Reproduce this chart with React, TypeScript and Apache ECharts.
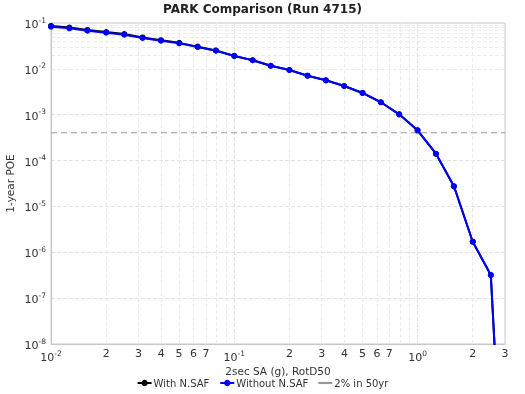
import React, { useEffect, useRef } from "react";
import * as echarts from "echarts";

const xValues = [0.01, 0.0126, 0.0158, 0.02, 0.0251, 0.0316, 0.0398, 0.0501, 0.0631, 0.0794, 0.1, 0.126, 0.158, 0.2, 0.251, 0.316, 0.398, 0.501, 0.631, 0.794, 1.0, 1.26, 1.58, 2.0, 2.51, 3.16];
const withNSAF = [0.0865, 0.0795, 0.0705, 0.0636, 0.0575, 0.0485, 0.0422, 0.0369, 0.0305, 0.0252, 0.0192, 0.0154, 0.0117, 0.00944, 0.0071, 0.00563, 0.00423, 0.00298, 0.00187, 0.00102, 0.000457, 0.000141, 2.75e-5, 1.7e-6, 3.2e-7, 1e-14];
const withoutNSAF = [0.083, 0.0766, 0.068, 0.0614, 0.0556, 0.0471, 0.0411, 0.0361, 0.03, 0.0249, 0.0191, 0.0154, 0.0117, 0.00944, 0.0071, 0.00563, 0.00423, 0.00298, 0.00187, 0.00102, 0.000457, 0.000141, 2.75e-5, 1.7e-6, 3.2e-7, 1e-14];
const refLevel = 1 - Math.pow(0.98, 1 / 50);
const xMinorValues = [0.02, 0.03, 0.04, 0.05, 0.06, 0.07, 0.2, 0.3, 0.4, 0.5, 0.6, 0.7, 2, 3];
const xMinorLabels = ["2", "3", "4", "5", "6", "7", "2", "3", "4", "5", "6", "7", "2", "3"];
const seriesNames = ["With N.SAF", "Without N.SAF", "2% in 50yr"];

const FONT = "DejaVu Sans";

function supLabel(v: number) {
  const e = Math.round(Math.log10(v));
  return "{b|10}{s|" + e + "}";
}

const rich = {
  b: { fontSize: 11, fontFamily: FONT, color: "#333", verticalAlign: "bottom" as const },
  s: { fontSize: 7.5, fontFamily: FONT, color: "#333", verticalAlign: "top" as const, padding: [0, 0, 6, 0] },
};

export default function App() {
  const ref = useRef<HTMLDivElement>(null);
  useEffect(() => {
    if (!ref.current) return;
    const chart = echarts.init(ref.current, null, { renderer: "svg" });

    const gridColor = "#e0e0e0";
    const minorY: any[] = [];
    for (let d = -8; d < -1; d++) {
      for (let m = 2; m <= 9; m++) minorY.push({ yAxis: m * Math.pow(10, d) });
    }
    const minorX: any[] = [];
    for (let d = -2; d <= 0; d++) {
      for (let m = 2; m <= 9; m++) {
        const v = m * Math.pow(10, d);
        if (v < 3) minorX.push({ xAxis: v });
      }
    }
    const xLabelData = xMinorValues.map((v, i) => ({
      xAxis: v,
      label: { formatter: xMinorLabels[i] },
    }));

    const dataWith = xValues.map((x, i) => [x, withNSAF[i]]);
    const dataWithout = xValues.map((x, i) => [x, withoutNSAF[i]]);

    chart.setOption({
      animation: false,
      textStyle: { fontFamily: FONT },
      title: {
        text: "PARK Comparison (Run 4715)",
        left: "center",
        top: -2,
        textStyle: { fontSize: 12, fontWeight: "bold", fontFamily: FONT, color: "#222" },
      },
      legend: {
        bottom: 1,
        left: "center",
        itemWidth: 14,
        itemHeight: 8,
        itemGap: 10,
        textStyle: { fontSize: 10, fontFamily: FONT, color: "#333", padding: [0, 0, 0, -3] },
        data: [
          seriesNames[0],
          seriesNames[1],
          { name: seriesNames[2], icon: "path://M0,0h8v1.2h-8z" },
        ],
      },
      grid: {
        left: 51,
        right: 20,
        top: 23,
        bottom: 50,
        show: true,
        borderColor: "#c8c8c8",
        borderWidth: 1,
        containLabel: false,
        outerBoundsMode: "none",
      },
      xAxis: {
        type: "log",
        logBase: 10,
        min: 0.01,
        max: 3,
        name: "2sec SA (g), RotD50",
        nameLocation: "middle",
        nameGap: 21,
        nameMoveOverlap: false,
        nameTextStyle: { fontSize: 10.5, fontFamily: FONT, color: "#333" },
        axisLine: { show: true, lineStyle: { color: "#c8c8c8" } },
        axisTick: { show: false },
        splitLine: { show: true, lineStyle: { color: gridColor, type: "dashed" } },
        axisLabel: { formatter: (v: number) => supLabel(v), rich, margin: 5, showMaxLabel: false },
      },
      yAxis: {
        type: "log",
        logBase: 10,
        min: 1e-8,
        max: 0.1,
        interval: 1,
        name: "1-year POE",
        nameLocation: "middle",
        nameGap: 36,
        nameMoveOverlap: false,
        nameTextStyle: { fontSize: 10.5, fontFamily: FONT, color: "#333" },
        axisLine: { show: true, lineStyle: { color: "#c8c8c8" } },
        axisTick: { show: false },
        splitLine: { show: true, lineStyle: { color: gridColor, type: "dashed" } },
        axisLabel: { formatter: (v: number) => supLabel(v), rich, margin: 5 },
      },
      series: [
        {
          name: "gridMinor",
          type: "line",
          data: [],
          silent: true,
          z: 0,
          markLine: {
            silent: true,
            z: 0,
            symbol: "none",
            label: { show: false },
            lineStyle: { color: "#ececec", type: "dashed", width: 1 },
            data: [...minorY, ...minorX],
          },
        },
        {
          name: "xLabels",
          type: "line",
          data: [],
          silent: true,
          z: 0,
          markLine: {
            silent: true,
            z: 0,
            symbol: "none",
            lineStyle: { color: "rgba(0,0,0,0)", width: 0 },
            label: { show: true, position: "start", fontSize: 11, fontFamily: FONT, color: "#333", distance: 4 },
            data: xLabelData,
          },
        },
        {
          name: seriesNames[0],
          type: "line",
          z: 3,
          data: dataWith,
          color: "#000000",
          symbol: "circle",
          symbolSize: 6,
          lineStyle: { width: 2, color: "#000000" },
          itemStyle: { color: "#000000" },
        },
        {
          name: seriesNames[1],
          type: "line",
          z: 4,
          data: dataWithout,
          color: "#0000ff",
          symbol: "circle",
          symbolSize: 6,
          lineStyle: { width: 2, color: "#0000ff" },
          itemStyle: { color: "#0000ff" },
        },
        {
          name: seriesNames[2],
          type: "line",
          z: 2,
          data: [[0.01, refLevel], [3, refLevel]],
          color: "#999999",
          symbol: "none",
          lineStyle: { width: 1, color: "#999999", type: [6, 4] },
        },
      ],
    });
    return () => chart.dispose();
  }, []);
  return <div ref={ref} style={{ position: "fixed", left: 0, top: 0, width: 525, height: 394 }} />;
}
